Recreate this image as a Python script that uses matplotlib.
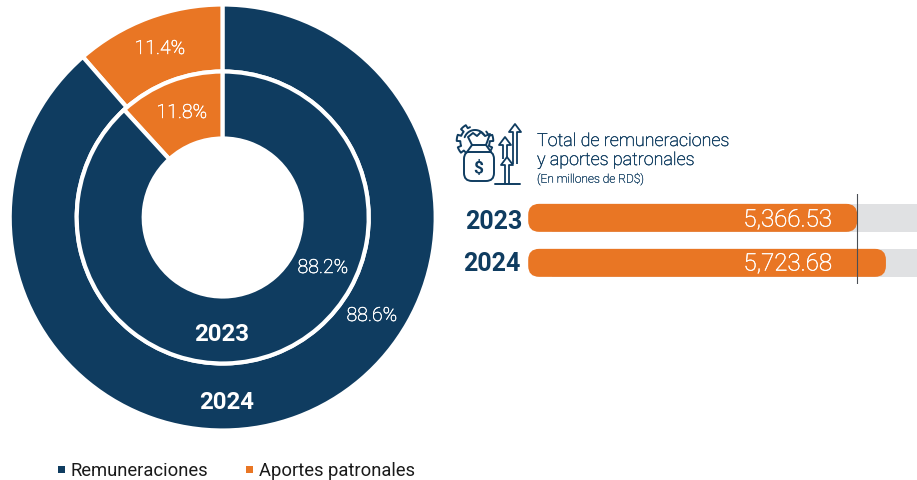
import numpy as np
import matplotlib
matplotlib.use('Agg')
import matplotlib.pyplot as plt
import matplotlib.patheffects as pe
from matplotlib.patches import FancyBboxPatch, Rectangle, Polygon

plt.rcParams['font.family'] = ['Roboto', 'DejaVu Sans']

# data
series = ['Remuneraciones', 'Aportes patronales']
share_2023 = [88.2, 11.8]
share_2024 = [88.6, 11.4]
years = ['2023', '2024']
totals = [5366.53, 5723.68]
title_lines = ['Total de remuneraciones', 'y aportes patronales']
subtitle = '(En millones de RD$)'

NAVY = '#0F3C60'
ORANGE = '#E97624'
GREY = '#E0E1E3'
W, H = 917, 481


def px_box(x0, y0, x1, y1):
    """Axes rectangle from pixel coordinates (y measured from the top)."""
    return [x0 / W, 1 - y1 / H, (x1 - x0) / W, (y1 - y0) / H]


def firm(color, width=0.35):
    # Roboto Light comes out too faint at this size
    return [pe.withStroke(linewidth=width, foreground=color)]


fig = plt.figure(figsize=(W / 100, H / 100), dpi=100, facecolor='white')

# donut
R = 213
ax = fig.add_axes(px_box(222.7 - R, 218.5 - R, 222.7 + R, 218.5 + R))
colors = [ORANGE, NAVY]
ring = {'edgecolor': 'white', 'linewidth': 3}
ax.pie(share_2024[::-1], radius=1, colors=colors, startangle=90, counterclock=True,
       wedgeprops=dict(width=67 / R, **ring))
ax.pie(share_2023[::-1], radius=146 / R, colors=colors, startangle=90, counterclock=True,
       wedgeprops=dict(width=67 / R, **ring))
ax.set_xlim(-1, 1)
ax.set_ylim(-1, 1)

# bars, the value axis does not start at zero
bar_ax = fig.add_axes(px_box(527, 195, 917, 285))
bar_ax.set_xlim(1260, 6110)
bar_ax.set_ylim(1.5, -0.5)
bar_ax.axis('off')
x_per_px = (6110 - 1260) / 390
y_per_px = 2 / 90
bar_h = 28 * y_per_px
base = 1275
centers = [0.03, 1.03]
for yc, val in zip(centers, totals):
    bar_ax.add_patch(Rectangle((base + 300, yc - bar_h / 2), 6110 - base - 300, bar_h,
                               facecolor=GREY, edgecolor='none'))
    bar_ax.add_patch(FancyBboxPatch((base, yc - bar_h / 2), val - base, bar_h,
                                    boxstyle='round,pad=0,rounding_size=%f' % (11 * x_per_px),
                                    mutation_aspect=y_per_px / x_per_px,
                                    facecolor=ORANGE, edgecolor='none'))
bar_ax.axvline(totals[0], color='#4A4F55', lw=0.8, zorder=5)

# overlay in pixel coordinates for text and icon
ov = fig.add_axes([0, 0, 1, 1], zorder=10)
ov.set_xlim(0, W)
ov.set_ylim(H, 0)
ov.axis('off')
ov.patch.set_alpha(0)

light = dict(fontweight='light', ha='center', va='center', color='white', path_effects=firm('white'))
ov.text(160, 50, f'{share_2024[1]}%', fontsize=14, **light)
ov.text(182, 114, f'{share_2023[1]}%', fontsize=14, **light)
ov.text(323, 269, f'{share_2023[0]}%', fontsize=14, **light)
ov.text(372, 317, f'{share_2024[0]}%', fontsize=14, **light)
ov.text(222, 335, years[0], color='white', fontsize=17.3, fontweight='bold', ha='center', va='center')
ov.text(226.5, 403, years[1], color='white', fontsize=17.3, fontweight='bold', ha='center', va='center')

# legend
for sx, col, name in zip([61, 249], [NAVY, ORANGE], series):
    ov.add_patch(Rectangle((sx - 3.5, 466.5), 7, 7, facecolor=col, edgecolor='none'))
    ov.text(sx + 10, 471, name, color='#1A1A1A', fontsize=13.2, ha='left', va='center')

# bar labels
for yp, xp, year in zip([222, 264], [522, 521], years):
    ov.text(xp, yp, year, color=NAVY, fontsize=18, fontweight='bold', ha='right', va='center')
for yp, val in zip([221, 265], totals):
    ov.text(832, yp, f'{val:,.2f}', color='white', fontsize=17.3, fontweight='light', ha='right', va='center',
            path_effects=firm('white'))

# heading
for yp, line in zip([142, 161], title_lines):
    ov.text(537, yp, line, color=NAVY, fontsize=12.9, fontweight='light', ha='left', va='center',
            path_effects=firm(NAVY, 0.3))
ov.text(537, 180, subtitle, color=NAVY, fontsize=8.6, fontweight='light', ha='left', va='center',
        path_effects=firm(NAVY, 0.2))

# money bag icon
ic = dict(color=NAVY, lw=1.4, solid_capstyle='round', solid_joinstyle='round')
ang = np.radians(np.linspace(110, 400, 400))
gear_r = 16.5 + 1.8 * np.sign(np.sin(9 * ang))
ov.plot(475 + gear_r * np.cos(ang), 142 - gear_r * np.sin(ang), **ic)
arc = np.radians(np.linspace(20, 160, 40))
ov.plot(475 + 11 * np.cos(arc), 142 - 11 * np.sin(arc), **ic)
ov.add_patch(FancyBboxPatch((464, 152), 30, 30, boxstyle='round,pad=0,rounding_size=8',
                            facecolor='white', edgecolor=NAVY, lw=1.4, zorder=3))
ov.add_patch(Polygon([(468, 138), (473, 134), (477, 137), (481, 133), (485, 137), (490, 135),
                      (486, 146), (491, 153), (467, 153), (472, 146)],
                     closed=True, facecolor='white', edgecolor=NAVY, lw=1.4, joinstyle='round', zorder=4))
ov.plot([472, 486], [146, 146], zorder=5, **ic)
ov.text(478.5, 168, '$', color=NAVY, fontsize=12.5, fontweight='bold', ha='center', va='center', zorder=5)
for xa, top, bot in [(515, 125, 165), (505, 138, 160), (507, 158, 185)]:
    ov.add_patch(Polygon([(xa - 2, bot), (xa - 2, top + 8), (xa - 6, top + 8), (xa, top),
                          (xa + 6, top + 8), (xa + 2, top + 8), (xa + 2, bot)],
                         closed=False, facecolor='white', edgecolor=NAVY, lw=1.3, joinstyle='round'))
ov.plot([495, 520], [185, 185], **ic)

fig.savefig('out.png', dpi=100, facecolor='white')
